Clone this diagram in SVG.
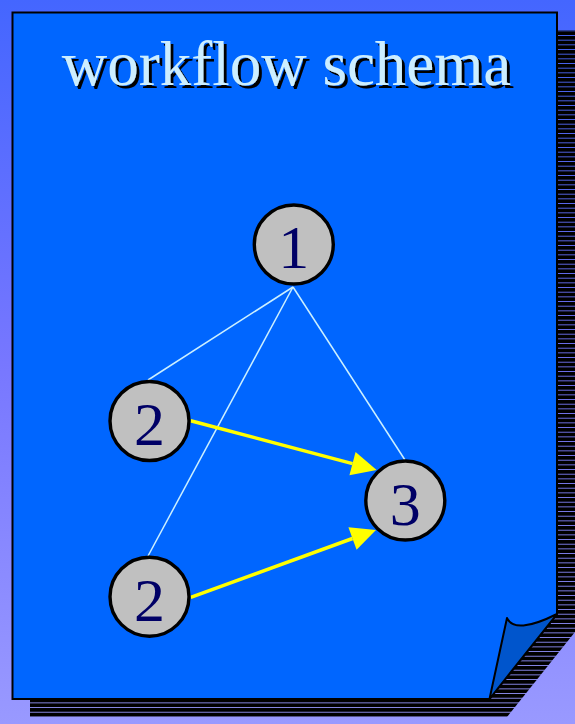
<svg xmlns="http://www.w3.org/2000/svg" width="575" height="724" viewBox="0 0 575 724">
<defs>
<linearGradient id="bg" x1="0" y1="0" x2="0" y2="1">
<stop offset="0" stop-color="#4466ff"/>
<stop offset="0.5" stop-color="#7777ff"/>
<stop offset="1" stop-color="#9999ff"/>
</linearGradient>
<pattern id="stripes" patternUnits="userSpaceOnUse" x="0" y="3.3" width="10" height="4.667">
<rect x="0" y="0" width="10" height="3.8" fill="#000"/>
</pattern>
<filter id="shadow" x="-5%" y="-20%" width="110%" height="140%">
<feFlood flood-color="#000" result="f"/>
<feComposite in="f" in2="SourceAlpha" operator="in" result="s"/>
<feOffset in="s" dx="2.5" dy="2.5" result="o"/>
<feMerge><feMergeNode in="o"/><feMergeNode in="SourceGraphic"/></feMerge>
</filter>
<marker id="arrow" markerUnits="userSpaceOnUse" markerWidth="26" markerHeight="26" refX="0" refY="12" orient="auto" overflow="visible">
<path d="M0,0 L25,12 L0,24 z" fill="#ffff00"/>
</marker>
<style>
.node circle{fill:#c0c0c0;stroke:#000;stroke-width:3.4}
.node text{font-family:"Liberation Serif","Times New Roman",serif;font-size:62px;fill:#000066;text-anchor:middle}
.tree{stroke:#ccf0ff;stroke-width:1.5;fill:none}
.flow{stroke:#ffff00;stroke-width:3.5;fill:none}
.title{font-family:"Liberation Serif","Times New Roman",serif;font-size:63px;text-anchor:middle;fill:#cceeff}
</style>
</defs>
<rect x="0" y="0" width="575" height="724" fill="url(#bg)"/>
<g id="page">
<polygon points="30,30 575,30 575,632 507,717 30,717" fill="url(#stripes)"/>
<polygon points="12.5,12.5 557,12.5 557,614 489.5,699 12.5,699" fill="#0066ff" stroke="#000" stroke-width="2"/>
<path d="M489.5,699 L507,618 Q515,635 557,614 Z" fill="#0055cc" stroke="#000" stroke-width="2" stroke-linejoin="round"/>
</g>
<g id="title">
<text class="title" x="286.5" y="85" filter="url(#shadow)">workflow schema</text>
</g>
<g id="connectors">
<line class="tree" x1="293" y1="287" x2="148" y2="380"/>
<line class="tree" x1="293" y1="287" x2="148" y2="556"/>
<line class="tree" x1="293" y1="287" x2="405" y2="460"/>
<line class="flow" x1="190.7" y1="420.7" x2="352.5" y2="463.6" marker-end="url(#arrow)"/>
<line class="flow" x1="190.7" y1="597.3" x2="352.5" y2="538.5" marker-end="url(#arrow)"/>
</g>
<g id="node1" class="node">
<circle cx="293.8" cy="244.5" r="39.5"/>
<text x="293.8" y="268.3">1</text>
</g>
<g id="node2a" class="node">
<circle cx="149.5" cy="421" r="39.5"/>
<text x="149.5" y="445">2</text>
</g>
<g id="node2b" class="node">
<circle cx="149.5" cy="596.7" r="39.5"/>
<text x="149.5" y="620.7">2</text>
</g>
<g id="node3" class="node">
<circle cx="405.3" cy="500.5" r="39.5"/>
<text x="405.3" y="524.5">3</text>
</g>
</svg>
